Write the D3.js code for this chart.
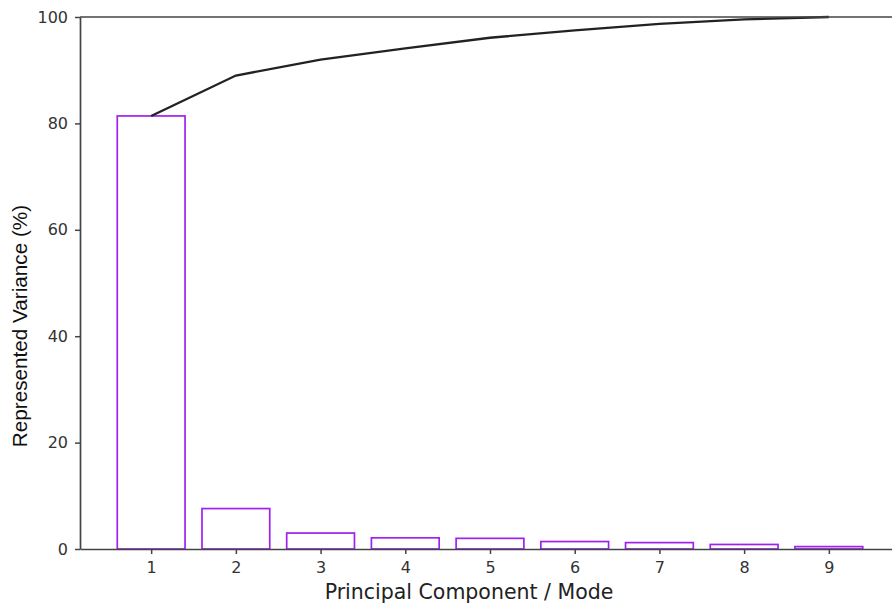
<!DOCTYPE html>
<html><head><meta charset="utf-8">
<script src="https://cdn.jsdelivr.net/npm/d3@7"></script>
<style>body{margin:0;background:#fff}svg{display:block}</style>
</head><body>
<svg id="c" width="892" height="603"></svg>
<script>
const components = [1,2,3,4,5,6,7,8,9];
const variance = [81.4, 7.6, 3.0, 2.1, 2.0, 1.4, 1.2, 0.85, 0.45];
const yTicks = [0,20,40,60,80,100];

let acc = 0;
const cumulative = variance.map(v => Math.min(100, acc += v));

const svg = d3.select("#c");
const x = d3.scaleLinear().domain([0.16, 9.84]).range([80, 900]);
const y = d3.scaleLinear().domain([0,100]).range([549, 17]);
const bw = x(1.4) - x(0.6);

svg.append("g").selectAll("rect").data(components).join("rect")
  .attr("x", (d,i) => x(d) - bw/2)
  .attr("y", (d,i) => y(variance[i]))
  .attr("width", bw)
  .attr("height", (d,i) => y(0) - y(variance[i]))
  .attr("fill", "none").attr("stroke", "#a020f0").attr("stroke-width", 1.7);

svg.append("path").datum(components)
  .attr("d", d3.line().x(d => x(d)).y((d,i) => y(cumulative[i])))
  .attr("fill","none").attr("stroke","#222").attr("stroke-width",2.3);

const ax = d3.axisBottom(x).tickValues(components).tickFormat(d3.format("d")).tickSize(5).tickSizeOuter(0);
const gx = svg.append("g").attr("transform","translate(0,549)").call(ax);
const ay = d3.axisLeft(y).tickValues(yTicks).tickSize(5).tickSizeOuter(0);
const gy = svg.append("g").attr("transform","translate(80,0)").call(ay);
[gx,gy].forEach(g => {
  g.select(".domain").attr("stroke","#444").attr("stroke-width",1.7);
  g.selectAll(".tick line").attr("stroke","#444").attr("stroke-width",1.5);
  g.selectAll(".tick text").attr("fill","#333").attr("font-family","DejaVu Sans").attr("font-size",16);
});
gx.selectAll(".tick text").attr("dy","1.0em");
gy.selectAll(".tick text").attr("x",-12);

svg.append("line").attr("x1",80).attr("x2",900).attr("y1",17).attr("y2",17)
  .attr("stroke","#444").attr("stroke-width",1.7);

svg.append("text").attr("x",469).attr("y",599).attr("text-anchor","middle")
  .attr("font-family","DejaVu Sans").attr("font-size",20.5).attr("fill","#222")
  .text("Principal Component / Mode");
svg.append("text").attr("transform","translate(27,326) rotate(-90)").attr("text-anchor","middle")
  .attr("font-family","Liberation Sans").attr("font-size",20.7).attr("fill","#111")
  .text("Represented Variance (%)");
</script>
</body></html>
